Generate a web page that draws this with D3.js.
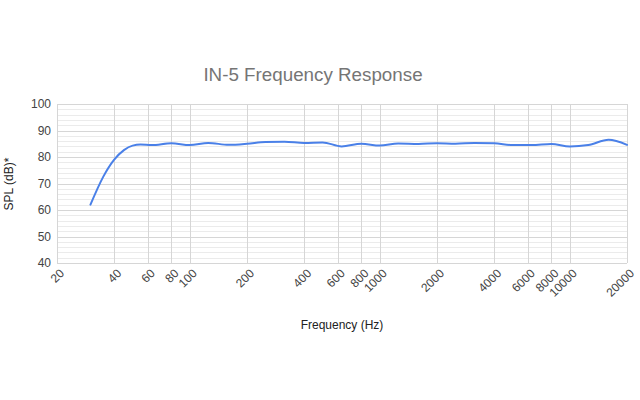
<!DOCTYPE html>
<html><head><meta charset="utf-8">
<script src="https://cdn.jsdelivr.net/npm/d3@7"></script>
<style>body{margin:0;background:#fff}svg{display:block}text{font-family:Arial,"Liberation Sans",sans-serif}</style>
</head><body><svg id="c" width="640" height="400"></svg>
<script>
const freqs = [30,35,40,45,50,55,63,80,100,125,160,200,250,315,400,500,630,800,1000,1250,1600,2000,2500,3150,4000,5000,6300,8000,10000,12500,16000,20000];
const spl =   [62,72.5,79,82.6,84.3,84.7,84.5,85.2,84.5,85.3,84.6,85,85.7,85.8,85.3,85.5,84.0,85,84.3,85.1,84.9,85.2,85,85.3,85.2,84.5,84.5,84.9,84.0,84.5,86.5,84.6];
const xTicks = [20,40,60,80,100,200,400,600,800,1000,2000,4000,6000,8000,10000,20000];
const yTicks = [40,50,60,70,80,90,100];
const title = "IN-5 Frequency Response";
const xLabel = "Frequency (Hz)";
const yLabel = "SPL (dB)*";

const svg = d3.select("#c");
const L=57,R=627,T=104,B=263;
const x = d3.scaleLog().domain([20,20000]).range([L,R]);
const y = d3.scaleLinear().domain([40,100]).range([B,T]);

const g = svg.append("g");
const minor = d3.range(40,100.01,2).filter(v=>v%10!==0);
g.selectAll(".mh").data(minor).join("line")
 .attr("x1",L).attr("x2",R).attr("y1",d=>Math.round(y(d))+0.5).attr("y2",d=>Math.round(y(d))+0.5)
 .attr("stroke","#ebebeb").attr("stroke-width",1);
g.selectAll(".mv").data(xTicks).join("line")
 .attr("x1",d=>Math.round(x(d))+0.5).attr("x2",d=>Math.round(x(d))+0.5).attr("y1",T).attr("y2",B)
 .attr("stroke","#d6d6d6").attr("stroke-width",1);
g.selectAll(".mj").data(yTicks).join("line")
 .attr("x1",L).attr("x2",R).attr("y1",d=>Math.round(y(d))+0.5).attr("y2",d=>Math.round(y(d))+0.5)
 .attr("stroke","#d6d6d6").attr("stroke-width",1);

g.selectAll(".yl").data(yTicks).join("text")
 .attr("x",L-6).attr("y",d=>y(d)).attr("dy","0.35em").attr("text-anchor","end")
 .attr("font-size",12).attr("fill","#444").text(d=>d);
g.selectAll(".xl").data(xTicks).join("text")
 .attr("transform",d=>`translate(${x(d)+5},${B+8}) rotate(-45)`)
 .attr("dy","0.35em").attr("text-anchor","end")
 .attr("font-size",12).attr("fill","#444").text(d=>d);

const line = d3.line().x((d,i)=>x(freqs[i])).y(d=>y(d)).curve(d3.curveMonotoneX);
g.append("path").datum(spl).attr("d",line).attr("fill","none")
 .attr("stroke","#4a80e8").attr("stroke-width",2).attr("stroke-linejoin","round").attr("stroke-linecap","round");

svg.append("text").attr("x",313).attr("y",81).attr("text-anchor","middle")
 .attr("font-size",18.8).attr("fill","#757575").text(title);
svg.append("text").attr("x",342).attr("y",329).attr("text-anchor","middle")
 .attr("font-size",12).attr("fill","#222").text(xLabel);
svg.append("text").attr("transform","translate(13,184) rotate(-90)").attr("text-anchor","middle")
 .attr("font-size",12).attr("fill","#222").text(yLabel);
</script></body></html>
